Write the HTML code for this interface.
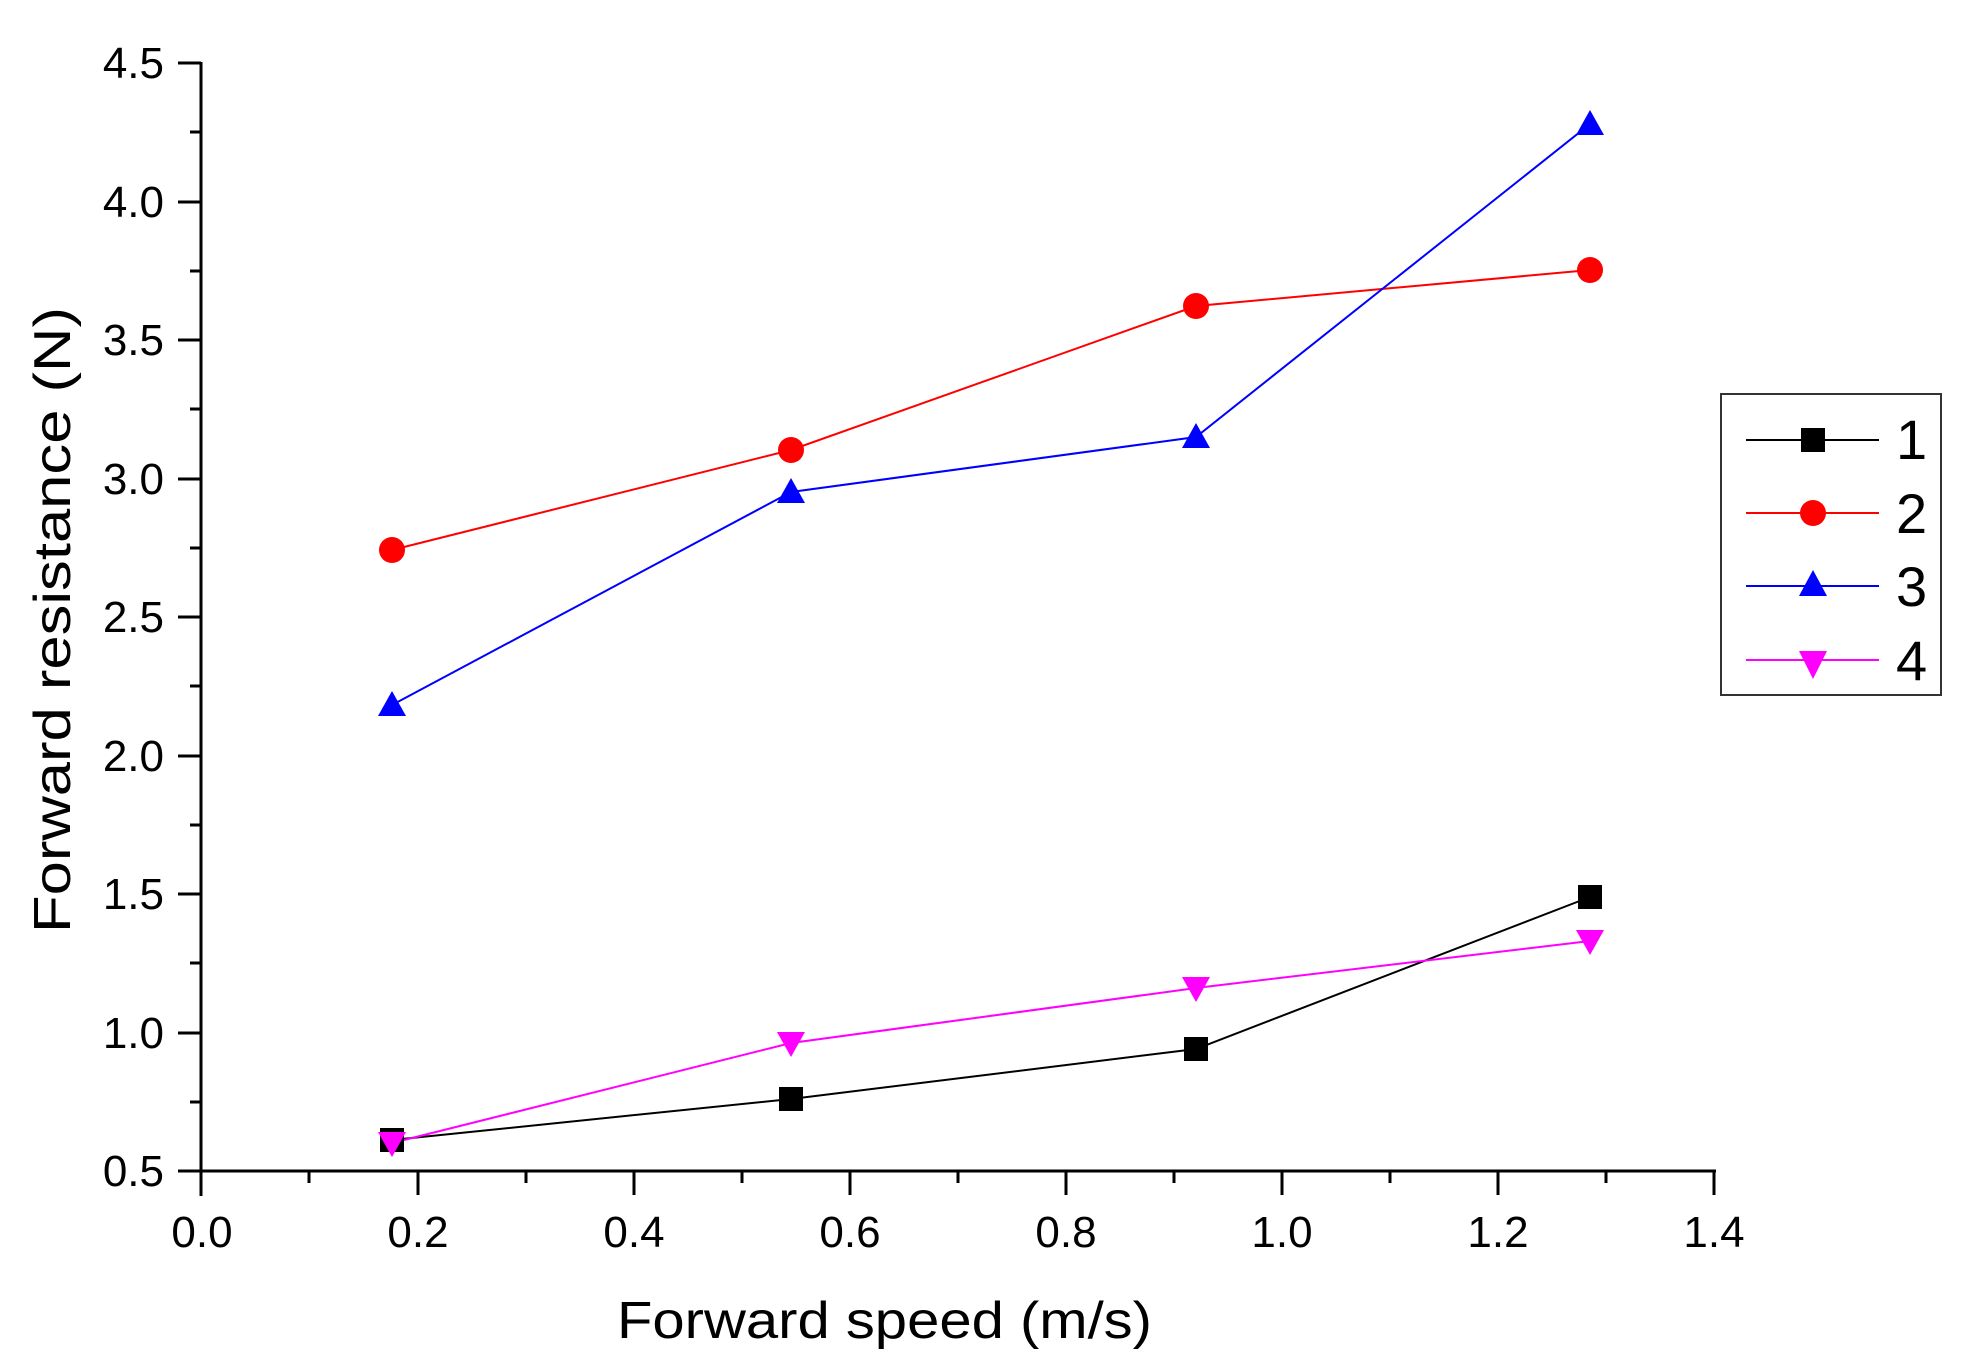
<!DOCTYPE html>
<html><head><style>html,body{margin:0;padding:0;background:#fff}svg{display:block}</style></head>
<body>
<svg width="1963" height="1370" viewBox="0 0 1963 1370" xmlns="http://www.w3.org/2000/svg" font-family="Liberation Sans, sans-serif">
<rect width="1963" height="1370" fill="#fff"/>
<g stroke="#000" stroke-width="3" fill="none">
<line x1="201" y1="62" x2="201" y2="1196"/>
<line x1="178" y1="1171" x2="1716" y2="1171"/>
<!-- y ticks -->
<line x1="178" y1="63" x2="201" y2="63"/><line x1="190" y1="132" x2="201" y2="132"/>
<line x1="178" y1="202" x2="201" y2="202"/><line x1="190" y1="271" x2="201" y2="271"/>
<line x1="178" y1="340" x2="201" y2="340"/><line x1="190" y1="409" x2="201" y2="409"/>
<line x1="178" y1="479" x2="201" y2="479"/><line x1="190" y1="548" x2="201" y2="548"/>
<line x1="178" y1="617" x2="201" y2="617"/><line x1="190" y1="686" x2="201" y2="686"/>
<line x1="178" y1="756" x2="201" y2="756"/><line x1="190" y1="825" x2="201" y2="825"/>
<line x1="178" y1="894" x2="201" y2="894"/><line x1="190" y1="963" x2="201" y2="963"/>
<line x1="178" y1="1033" x2="201" y2="1033"/><line x1="190" y1="1102" x2="201" y2="1102"/>
<!-- x ticks -->
<line x1="309" y1="1171" x2="309" y2="1183"/><line x1="418" y1="1171" x2="418" y2="1195"/>
<line x1="526" y1="1171" x2="526" y2="1183"/><line x1="634" y1="1171" x2="634" y2="1195"/>
<line x1="742" y1="1171" x2="742" y2="1183"/><line x1="850" y1="1171" x2="850" y2="1195"/>
<line x1="958" y1="1171" x2="958" y2="1183"/><line x1="1066" y1="1171" x2="1066" y2="1195"/>
<line x1="1174" y1="1171" x2="1174" y2="1183"/><line x1="1282" y1="1171" x2="1282" y2="1195"/>
<line x1="1390" y1="1171" x2="1390" y2="1183"/><line x1="1498" y1="1171" x2="1498" y2="1195"/>
<line x1="1606" y1="1171" x2="1606" y2="1183"/><line x1="1714" y1="1171" x2="1714" y2="1195"/>
</g>
<g font-size="44" text-anchor="end" fill="#000">
<text x="164" y="78">4.5</text><text x="164" y="217">4.0</text><text x="164" y="355">3.5</text>
<text x="164" y="494">3.0</text><text x="164" y="632">2.5</text><text x="164" y="771">2.0</text>
<text x="164" y="909">1.5</text><text x="164" y="1048">1.0</text><text x="164" y="1186">0.5</text>
</g>
<g font-size="44" text-anchor="middle" fill="#000">
<text x="202" y="1247">0.0</text><text x="418" y="1247">0.2</text><text x="634" y="1247">0.4</text>
<text x="850" y="1247">0.6</text><text x="1066" y="1247">0.8</text><text x="1282" y="1247">1.0</text>
<text x="1498" y="1247">1.2</text><text x="1714" y="1247">1.4</text>
</g>
<text x="617" y="1338" font-size="52" textLength="535" lengthAdjust="spacingAndGlyphs">Forward speed (m/s)</text>
<text transform="translate(70,933) rotate(-90)" font-size="52" textLength="626" lengthAdjust="spacingAndGlyphs">Forward resistance (N)</text>
<!-- series -->
<polyline points="392,1140 791,1099 1196,1049 1590,897" fill="none" stroke="#000" stroke-width="2"/>
<polyline points="392,550 791,450 1196,306 1590,270" fill="none" stroke="#f00" stroke-width="2"/>
<polyline points="392,705 791,492 1196,437 1590,124" fill="none" stroke="#00f" stroke-width="2"/>
<polyline points="392,1143 791,1043 1196,988 1590,941" fill="none" stroke="#f0f" stroke-width="2"/>
<g fill="#000"><rect x="380" y="1128" width="24" height="24"/><rect x="779" y="1087" width="24" height="24"/><rect x="1184" y="1037" width="24" height="24"/><rect x="1578" y="885" width="24" height="24"/></g>
<g fill="#f00"><circle cx="392" cy="550" r="13"/><circle cx="791" cy="450" r="13"/><circle cx="1196" cy="306" r="13"/><circle cx="1590" cy="270" r="13"/></g>
<g fill="#00f"><polygon points="392,691 378,716 406,716"/><polygon points="791,478 777,503 805,503"/><polygon points="1196,423 1182,448 1210,448"/><polygon points="1590,110 1576,135 1604,135"/></g>
<g fill="#f0f"><polygon points="392,1157 378,1132 406,1132"/><polygon points="791,1057 777,1032 805,1032"/><polygon points="1196,1002 1182,977 1210,977"/><polygon points="1590,955 1576,930 1604,930"/></g>
<!-- legend -->
<rect x="1721" y="394" width="220" height="301" fill="#fff" stroke="#333" stroke-width="2"/>
<line x1="1746" y1="440" x2="1879" y2="440" stroke="#000" stroke-width="2"/><rect x="1801" y="428" width="24" height="24" fill="#000"/>
<line x1="1746" y1="513" x2="1879" y2="513" stroke="#f00" stroke-width="2"/><circle cx="1813" cy="513" r="13" fill="#f00"/>
<line x1="1746" y1="586" x2="1879" y2="586" stroke="#00f" stroke-width="2"/><polygon points="1813,570 1799,596 1827,596" fill="#00f"/>
<line x1="1746" y1="660" x2="1879" y2="660" stroke="#f0f" stroke-width="2"/><polygon points="1813,679 1799,651 1827,651" fill="#f0f"/>
<g font-size="56" fill="#000"><text x="1896" y="459">1</text><text x="1896" y="533">2</text><text x="1896" y="606">3</text><text x="1896" y="680">4</text></g>
</svg>
</body></html>
